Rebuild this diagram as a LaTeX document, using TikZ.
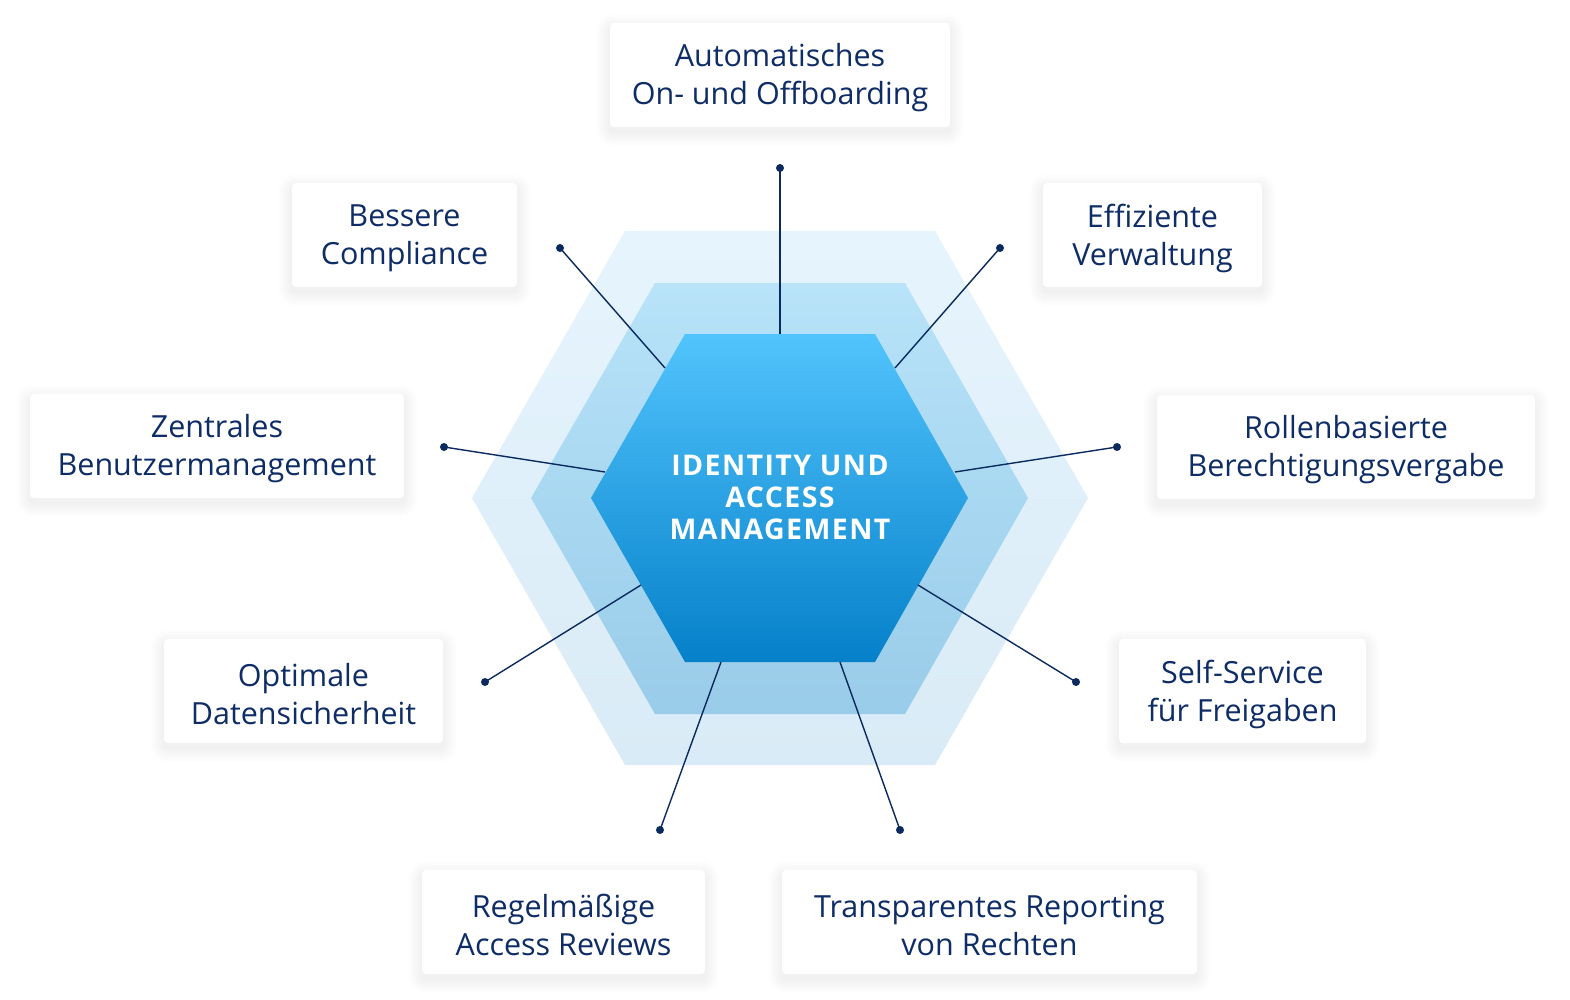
\documentclass[tikz,border=0pt]{standalone}
\usepackage{fontspec}
\setmainfont{Open Sans}[Ligatures=NoCommon]
\newfontfamily\hexfont[LetterSpace=5]{Open Sans}
\usetikzlibrary{backgrounds,calc}
\definecolor{navy}{HTML}{0E2C66}
\definecolor{linecol}{HTML}{0B2A5E}
\definecolor{hexAtop}{RGB}{230,244,253}
\definecolor{hexAbot}{RGB}{217,235,246}
\definecolor{hexBtop}{RGB}{184,227,249}
\definecolor{hexBbot}{RGB}{153,204,233}
\definecolor{hexCtop}{RGB}{82,196,253}
\definecolor{hexCbot}{RGB}{5,128,201}
\tikzset{
  infobox/.style={fill=white, rounded corners=4pt, inner sep=0pt, minimum height=104pt},
  infotext/.style={align=center, text=navy, font=\fontsize{30.5}{38}\selectfont, inner sep=0pt},
  conn/.style={draw=linecol, line width=1.4pt},
  dotnode/.style={circle, fill=linecol, inner sep=0pt, minimum size=8pt},
}
\newcommand{\infobox}[5]{%
  \node[infobox, minimum width=#4pt] (#1) at (#2,#3) {};
  \node[infotext] (#1t) at ([yshift=-3pt]#1.center) {#5};
}
\begin{document}
\begin{tikzpicture}[x=1pt,y=-1pt]
\useasboundingbox (0,0) rectangle (1570,1000);
% hexagons
\shade[top color=hexAtop, bottom color=hexAbot]
  (625,231) -- (935,231) -- (1088,498) -- (935,765) -- (625,765) -- (472,498) -- cycle;
\shade[top color=hexBtop, bottom color=hexBbot]
  (655,283) -- (905,283) -- (1028,498) -- (905,714) -- (655,714) -- (531,498) -- cycle;
\shade[top color=hexCtop, bottom color=hexCbot]
  (685,334) -- (875,334) -- (968,498) -- (875,662) -- (685,662) -- (591,498) -- cycle;
\node[text=white, align=center, font=\hexfont\bfseries\fontsize{28.5}{32}\selectfont] (center) at (780,497) {IDENTITY UND\\ACCESS\\MANAGEMENT};
% attachment coordinates
\coordinate (aT) at (780,334);
\coordinate (aCL) at (665,368);
\coordinate (aCR) at (895,368);
\coordinate (aZL) at (605,472);
\coordinate (aZR) at (955,472);
\coordinate (aOL) at (641,585);
\coordinate (aOR) at (918,585);
\coordinate (aBL) at (721,662);
\coordinate (aBR) at (840,662);
% dots
\node[dotnode] (dT) at (780,168) {};
\node[dotnode] (dCL) at (560,248) {};
\node[dotnode] (dCR) at (1000,248) {};
\node[dotnode] (dZL) at (444,447) {};
\node[dotnode] (dZR) at (1117,447) {};
\node[dotnode] (dOL) at (485,682) {};
\node[dotnode] (dOR) at (1076,682) {};
\node[dotnode] (dBL) at (660,830) {};
\node[dotnode] (dBR) at (900,830) {};
\foreach \a/\d in {aT/dT,aCL/dCL,aCR/dCR,aZL/dZL,aZR/dZR,aOL/dOL,aOR/dOR,aBL/dBL,aBR/dBR}
  \draw[conn] (\a) -- (\d.center);
% boxes
\infobox{bTop}{780}{75}{340}{Automatisches\\On- und Offboarding}
\infobox{bComp}{404.5}{235}{225}{Bessere\\Compliance}
\infobox{bEff}{1152.5}{235}{219}{Effiziente\\Verwaltung}
\infobox{bZen}{217}{446}{374}{Zentrales\\Benutzermanagement}
\infobox{bRol}{1346}{447}{378}{Rollenbasierte\\Berechtigungsvergabe}
\infobox{bOpt}{303.5}{691}{279}{Optimale\\Datensicherheit}
\infobox{bSelf}{1242.5}{691}{247}{Self-Service\\für Freigaben}
\infobox{bReg}{563.5}{922}{283}{Regelmäßige\\Access Reviews}
\infobox{bTra}{989.5}{922}{415}{Transparentes Reporting\\von Rechten}
% soft shadows
\begin{scope}[on background layer]
\fill[white] (0,0) rectangle (1570,1000);
\foreach \n in {bTop,bComp,bEff,bZen,bRol,bOpt,bSelf,bReg,bTra}{
  \foreach \k in {1,2,...,14}{
    \fill[black, opacity=0.005, rounded corners=4pt+\k pt]
      ($(\n.north west)+(-\k,5-\k)$) rectangle ($(\n.south east)+(\k,5+\k)$);
  }
}
\end{scope}
\end{tikzpicture}
\end{document}
